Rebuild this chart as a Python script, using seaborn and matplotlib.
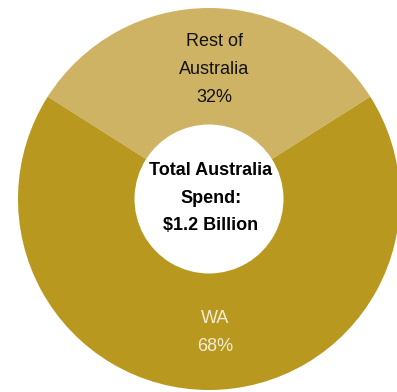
import matplotlib
matplotlib.use("Agg")
import matplotlib.pyplot as plt
import seaborn as sns

# Share of Australian spend by region
regions = ["Rest of\nAustralia", "WA"]
shares = [32, 68]
colors = ["#cfb365", "#b8981e"]
label_colors = ["#111111", "#f3ecd6"]
centre_text = "Total Australia\nSpend:\n$1.2 Billion"

sns.set_theme(style="white")
plt.rcParams["font.family"] = ["Liberation Sans", "DejaVu Sans"]

W, H = 397, 392
fig = plt.figure(figsize=(W / 100, H / 100), dpi=100)
ax = fig.add_axes([0, 0, 1, 1])
ax.set_axis_off()

# Donut: ring from radius 0.39 to 1.0, WA slice at the bottom
start = 90 - shares[0] / 100 * 360 / 2
wedges, _ = ax.pie(
    shares,
    colors=colors,
    startangle=start,
    counterclock=True,
    radius=1.0,
    wedgeprops=dict(width=0.61, linewidth=0),
)

# Place the ring: centre at (209, 199) px, radius 191 px
cx, cy, r = 209, 199, 191
ax.set_xlim(-cx / r, (W - cx) / r)
ax.set_ylim(-(H - cy) / r, cy / r)
ax.set_aspect("auto")

# Slice labels
ax.text(0.029, 0.68, f"{regions[0]}\n{shares[0]}%", ha="center", va="center",
        fontsize=13, color=label_colors[0], linespacing=1.85)
ax.text(0.031, -0.70, f"{regions[1]}\n{shares[1]}%", ha="center", va="center",
        fontsize=13, color=label_colors[1], linespacing=1.85)

# Centre caption
ax.text(0.01, 0.005, centre_text, ha="center", va="center",
        fontsize=13, fontweight="bold", color="#000000", linespacing=1.78)

fig.savefig("out.png", dpi=100, facecolor="white")
